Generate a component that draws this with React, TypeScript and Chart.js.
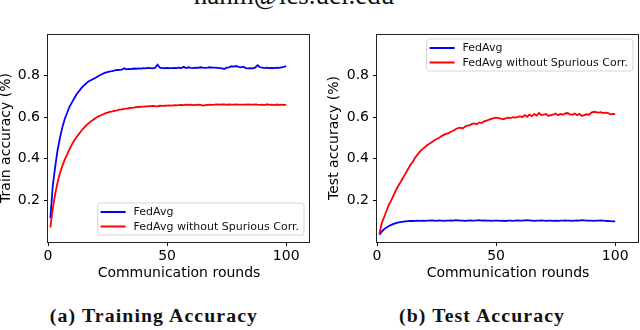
import React, { useEffect, useRef } from "react";
import { Chart, registerables } from "chart.js";

Chart.register(...registerables);

// ---------- data ----------
const ROUNDS = Array.from({ length: 100 }, (_, i) => i + 1);
const X_TICKS = [0, 50, 100];
const Y_TICKS = [0.2, 0.4, 0.6, 0.8];
const SERIES_LABELS = ["FedAvg", "FedAvg without Spurious Corr."];
const X_TITLE = "Communication rounds";
const TRAIN_Y_TITLE = "Train accuracy (%)";
const TEST_Y_TITLE = "Test accuracy (%)";
const CAPTIONS = ["(a) Training Accuracy", "(b) Test Accuracy"];
const HEADER_TEXT = "nahm@ics.uci.edu";

const TRAIN_FEDAVG = [
  0.115, 0.27, 0.36, 0.44, 0.5, 0.55, 0.59, 0.62, 0.65, 0.67,
  0.69, 0.71, 0.725, 0.74, 0.752, 0.762, 0.772, 0.778, 0.784, 0.79,
  0.797, 0.803, 0.809, 0.814, 0.817, 0.82, 0.822, 0.825, 0.827, 0.828,
  0.829, 0.835, 0.83, 0.832, 0.831, 0.834, 0.833, 0.835, 0.834, 0.836,
  0.835, 0.837, 0.836, 0.835, 0.838, 0.852, 0.838, 0.836, 0.836, 0.837,
  0.836, 0.836, 0.837, 0.836, 0.838, 0.836, 0.842, 0.836, 0.84, 0.837,
  0.836, 0.838, 0.837, 0.84, 0.838, 0.837, 0.838, 0.84, 0.838, 0.838,
  0.837, 0.836, 0.835, 0.832, 0.838, 0.84, 0.845, 0.843, 0.846, 0.842,
  0.84, 0.843, 0.836, 0.835, 0.836, 0.835, 0.838, 0.85, 0.84, 0.838,
  0.836, 0.838, 0.836, 0.837, 0.836, 0.838, 0.837, 0.84, 0.842, 0.845,
];

const TRAIN_NO_SPURIOUS = [
  0.07, 0.16, 0.23, 0.285, 0.33, 0.365, 0.395, 0.42, 0.445, 0.468,
  0.488, 0.505, 0.52, 0.535, 0.548, 0.56, 0.57, 0.58, 0.588, 0.596,
  0.603, 0.608, 0.613, 0.618, 0.622, 0.626, 0.628, 0.631, 0.633, 0.636,
  0.638, 0.64, 0.641, 0.643, 0.645, 0.646, 0.648, 0.649, 0.65, 0.651,
  0.652, 0.652, 0.653, 0.654, 0.653, 0.652, 0.655, 0.654, 0.655, 0.656,
  0.657, 0.656, 0.658, 0.657, 0.658, 0.659, 0.658, 0.66, 0.659, 0.66,
  0.658, 0.659, 0.66, 0.659, 0.656, 0.658, 0.659, 0.66, 0.659, 0.66,
  0.661, 0.66, 0.661, 0.662, 0.66, 0.661, 0.66, 0.66, 0.661, 0.66,
  0.66, 0.66, 0.66, 0.661, 0.66, 0.66, 0.662, 0.66, 0.659, 0.66,
  0.658, 0.662, 0.659, 0.66, 0.658, 0.661, 0.659, 0.66, 0.659, 0.659,
];

const TEST_FEDAVG = [
  0.035, 0.05, 0.062, 0.07, 0.077, 0.082, 0.087, 0.091, 0.094, 0.096,
  0.098, 0.099, 0.1, 0.101, 0.101, 0.102, 0.103, 0.102, 0.103, 0.102,
  0.103, 0.103, 0.104, 0.103, 0.102, 0.104, 0.103, 0.102, 0.103, 0.103,
  0.104, 0.103, 0.105, 0.104, 0.103, 0.103, 0.102, 0.103, 0.104, 0.103,
  0.103, 0.104, 0.105, 0.103, 0.104, 0.103, 0.103, 0.102, 0.103, 0.103,
  0.103, 0.102, 0.103, 0.101, 0.103, 0.103, 0.102, 0.103, 0.104, 0.103,
  0.103, 0.104, 0.105, 0.104, 0.103, 0.102, 0.103, 0.103, 0.104, 0.103,
  0.102, 0.103, 0.103, 0.102, 0.103, 0.102, 0.103, 0.103, 0.104, 0.103,
  0.103, 0.102, 0.103, 0.104, 0.103, 0.105, 0.104, 0.103, 0.103, 0.103,
  0.102, 0.103, 0.103, 0.104, 0.103, 0.102, 0.101, 0.1, 0.099, 0.099,
];

const TEST_NO_SPURIOUS = [
  0.04, 0.09, 0.12, 0.15, 0.18, 0.2, 0.225, 0.25, 0.272, 0.29,
  0.31, 0.33, 0.35, 0.37, 0.385, 0.405, 0.42, 0.435, 0.445, 0.455,
  0.465, 0.472, 0.48, 0.488, 0.495, 0.5, 0.508, 0.515, 0.52, 0.523,
  0.53, 0.535, 0.542, 0.548, 0.55, 0.546, 0.555, 0.56, 0.562, 0.568,
  0.57, 0.566, 0.575, 0.572, 0.58, 0.583, 0.588, 0.592, 0.596, 0.598,
  0.596, 0.593, 0.59, 0.594, 0.598, 0.596, 0.6, 0.598, 0.6, 0.605,
  0.6, 0.61, 0.602, 0.612, 0.605, 0.615, 0.608, 0.62, 0.61, 0.612,
  0.615, 0.606, 0.61, 0.612, 0.618, 0.61, 0.616, 0.612, 0.618, 0.62,
  0.614, 0.612, 0.618, 0.61, 0.616, 0.606, 0.61, 0.614, 0.612, 0.622,
  0.626, 0.624, 0.622, 0.624, 0.62, 0.622, 0.62, 0.614, 0.616, 0.615,
];

const BLUE = "#0000ff";
const RED = "#ff0000";
const FONT = "DejaVu Sans";

// ---------- plugins ----------
const framePlugin = {
  id: "frame",
  afterDraw(chart: any) {
    const { ctx, chartArea } = chart;
    ctx.save();
    ctx.strokeStyle = "#222";
    ctx.lineWidth = 1;
    const l = Math.round(chartArea.left) - 0.5;
    const t = Math.round(chartArea.top) + 0.5;
    const r = Math.round(chartArea.right) - 0.5;
    const b = Math.round(chartArea.bottom) + 0.5;
    ctx.strokeRect(l, t, r - l, b - t);
    ctx.restore();
  },
};

const boxLegendPlugin = {
  id: "boxLegend",
  afterDatasetsDraw(chart: any, _args: any, opts: any) {
    const { ctx, chartArea } = chart;
    const datasets = chart.data.datasets;
    ctx.save();
    ctx.font = `11px "${FONT}"`;
    const tw = Math.max(...datasets.map((d: any) => ctx.measureText(d.label).width));
    const padL = 3, lineLen = 25, gap = 8, padR = 5;
    const w = padL + lineLen + gap + tw + padR;
    const h = 32;
    const x = chartArea.right - 6 - w;
    const y = opts.corner === "br" ? chartArea.bottom - 7 - h : chartArea.top + 5;
    // box
    ctx.beginPath();
    const rad = 3;
    ctx.moveTo(x + rad, y);
    ctx.arcTo(x + w, y, x + w, y + h, rad);
    ctx.arcTo(x + w, y + h, x, y + h, rad);
    ctx.arcTo(x, y + h, x, y, rad);
    ctx.arcTo(x, y, x + w, y, rad);
    ctx.closePath();
    ctx.fillStyle = "rgba(255,255,255,0.8)";
    ctx.fill();
    ctx.strokeStyle = "#d6d6d6";
    ctx.lineWidth = 1;
    ctx.stroke();
    datasets.forEach((d: any, i: number) => {
      const ry = y + 9 + i * 14.5;
      ctx.beginPath();
      ctx.strokeStyle = d.borderColor;
      ctx.lineWidth = 2;
      ctx.moveTo(x + padL, ry);
      ctx.lineTo(x + padL + lineLen, ry);
      ctx.stroke();
      ctx.fillStyle = "#111";
      ctx.textBaseline = "middle";
      ctx.textAlign = "left";
      ctx.fillText(d.label, x + padL + lineLen + gap, ry + 0.5);
    });
    ctx.restore();
  },
};

// ---------- panel ----------
type PanelProps = {
  left: number;
  blue: number[];
  red: number[];
  yTitle: string;
  corner: "br" | "tr";
  yAxisWidth: number;
  yTitlePad: number;
  padRight: number;
};

function Panel(p: PanelProps) {
  const ref = useRef<HTMLCanvasElement | null>(null);
  useEffect(() => {
    if (!ref.current) return;
    const chart = new Chart(ref.current, {
      type: "line",
      data: {
        datasets: [
          {
            label: SERIES_LABELS[0],
            data: ROUNDS.map((x, i) => ({ x, y: p.blue[i] })),
            borderColor: BLUE,
            backgroundColor: BLUE,
            borderWidth: 1.8,
            pointRadius: 0,
            tension: 0,
            fill: false,
            order: 1,
          },
          {
            label: SERIES_LABELS[1],
            data: ROUNDS.map((x, i) => ({ x, y: p.red[i] })),
            borderColor: RED,
            backgroundColor: RED,
            borderWidth: 1.8,
            pointRadius: 0,
            tension: 0,
            fill: false,
            order: 0,
          },
        ],
      },
      options: {
        responsive: false,
        animation: false,
        devicePixelRatio: 1,
        layout: { padding: { top: 34, right: p.padRight, left: 0, bottom: 0 } },
        plugins: {
          legend: { display: false },
          tooltip: { enabled: false },
          boxLegend: { corner: p.corner },
        } as any,
        scales: {
          x: {
            type: "linear",
            min: 0,
            max: 110,
            afterBuildTicks: (s: any) => {
              s.ticks = X_TICKS.map((v) => ({ value: v }));
            },
            afterFit: (s: any) => {
              s.height = 48;
            },
            grid: { drawOnChartArea: false, color: "#000", tickLength: 4 },
            border: { display: false },
            ticks: {
              color: "#000",
              font: { family: FONT, size: 14 },
              padding: 2,
              maxRotation: 0,
              callback: (v: any) => String(v),
            },
            title: {
              display: true,
              text: X_TITLE,
              color: "#000",
              font: { family: FONT, size: 14, lineHeight: 1.2 },
              padding: { top: 0, bottom: 8 },
            },
          },
          y: {
            min: 0,
            max: 1,
            afterBuildTicks: (s: any) => {
              s.ticks = Y_TICKS.map((v) => ({ value: v }));
            },
            afterFit: (s: any) => {
              s.width = p.yAxisWidth;
            },
            grid: { drawOnChartArea: false, color: "#000", tickLength: 4 },
            border: { display: false },
            ticks: {
              color: "#000",
              font: { family: FONT, size: 14 },
              padding: 4,
              callback: (v: any) => Number(v).toFixed(1),
            },
            title: {
              display: true,
              text: p.yTitle,
              color: "#000",
              font: { family: FONT, size: 14, lineHeight: 1.2 },
              padding: { top: p.yTitlePad, bottom: 0 },
            },
          },
        },
      },
      plugins: [framePlugin, boxLegendPlugin],
    } as any);
    return () => chart.destroy();
  }, []);
  return (
    <canvas
      ref={ref}
      width={320}
      height={290}
      style={{ position: "absolute", left: p.left, top: 0, width: 320, height: 290, display: "block" }}
    />
  );
}

function Caption({ text, center }: { text: string; center: number }) {
  return (
    <div
      style={{
        position: "absolute",
        left: center,
        top: 307,
        fontFamily: '"Liberation Serif", serif',
        fontWeight: "bold",
        fontSize: 18,
        lineHeight: "18px",
        letterSpacing: "1px",
        whiteSpace: "nowrap",
        color: "#111",
        transform: "translateX(-50%) scaleX(1.1)",
      }}
    >
      {text}
    </div>
  );
}

export default function App() {
  return (
    <div
      style={{
        position: "absolute",
        left: 0,
        top: 0,
        width: 640,
        height: 330,
        overflow: "hidden",
        background: "#fff",
      }}
    >
      <div
        style={{
          position: "absolute",
          left: 294,
          top: -18,
          fontFamily: '"Liberation Serif", serif',
          fontSize: 27,
          lineHeight: "27px",
          whiteSpace: "nowrap",
          color: "#111",
          transform: "translateX(-50%)",
        }}
      >
        {HEADER_TEXT}
      </div>
      <Panel
        left={0}
        blue={TRAIN_FEDAVG}
        red={TRAIN_NO_SPURIOUS}
        yTitle={TRAIN_Y_TITLE}
        corner="br"
        yAxisWidth={48}
        yTitlePad={-2}
        padRight={10}
      />
      <Panel
        left={320}
        blue={TEST_FEDAVG}
        red={TEST_NO_SPURIOUS}
        yTitle={TEST_Y_TITLE}
        corner="tr"
        yAxisWidth={57}
        yTitlePad={6}
        padRight={1}
      />
      <Caption text={CAPTIONS[0]} center={154} />
      <Caption text={CAPTIONS[1]} center={482} />
    </div>
  );
}
